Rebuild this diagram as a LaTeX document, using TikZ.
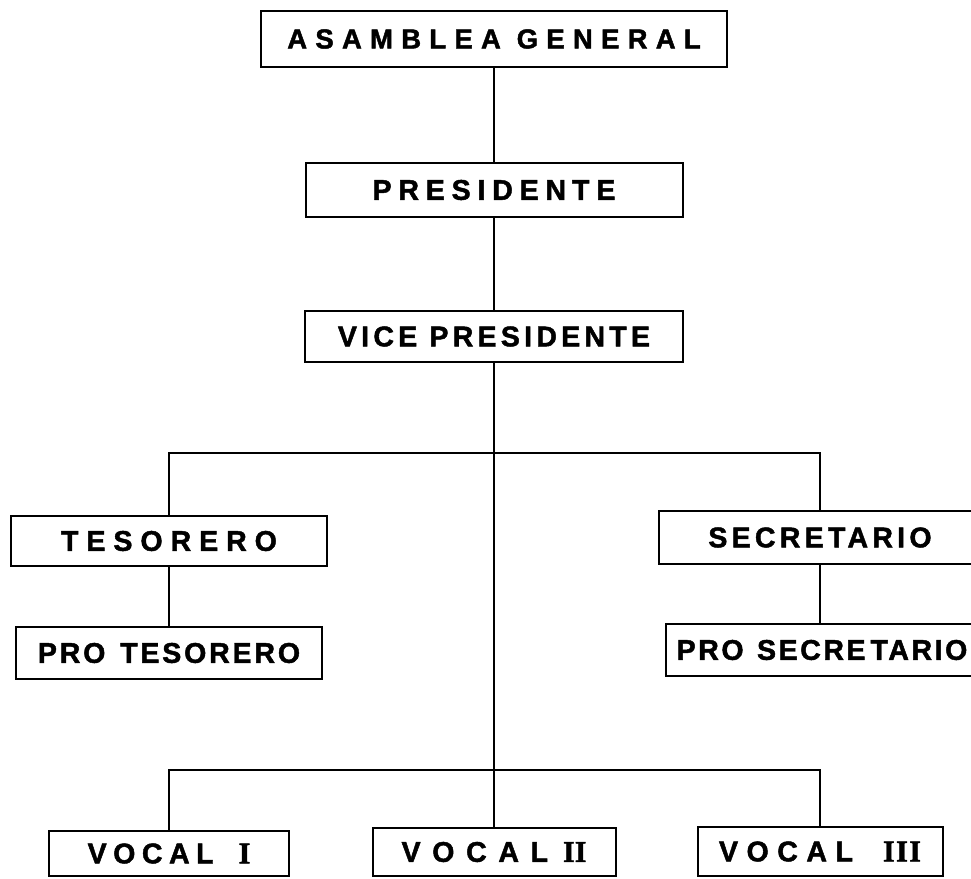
\documentclass[tikz,border=0pt]{standalone}
\usepackage{fontspec}
\usetikzlibrary{positioning}
\newfontfamily\orgfont{Liberation Sans}[UprightFont={* Bold},FakeBold=1.6]
\newfontfamily\numfont{Liberation Serif}[UprightFont={* Bold},FakeBold=1.4]
\newcommand\spaced[2]{{\addfontfeature{LetterSpace=#1}#2}}
\newcommand\numeral[1]{{\numfont\fontsize{30}{32}\selectfont #1}}

\begin{document}
\begin{tikzpicture}[
                x=1pt,y=-1pt,
                orgbox/.style={draw,line width=2pt,inner sep=0pt,
                    font=\orgfont\fontsize{28.5}{30}\selectfont},
                enlace/.style={line width=1.6pt}
            ]
                \fill[white] (0,0) rectangle (971,878);
                \useasboundingbox (0,0) rectangle (971,878);
                \clip (0,0) rectangle (971,878);
                \node (asamblea) [orgbox,minimum width=466pt,minimum height=56pt,
                    font=\orgfont\fontsize{27.5}{29}\selectfont] at (494,39)
                    {\spaced{30}{ASAMBLEA GENERAL}};
                \node (presidente) [orgbox,minimum width=377pt,minimum height=54pt,
                    below=94pt of asamblea] {\spaced{24}{PRESIDEN\kern6pt TE}};
                \node (vice) [orgbox,minimum width=378pt,minimum height=51pt,
                    below=92pt of presidente] {\spaced{15}{VICE PRESIDENTE}};
                \node (tesorero) [orgbox,minimum width=316pt,minimum height=50pt]
                    at (169,541) {\spaced{28}{TESORERO}};
                \node (protesorero) [orgbox,minimum width=306pt,minimum height=52pt,
                    below=59pt of tesorero] {\spaced{10}{PRO\kern4pt\ TESORERO}};
                \node (secretario) [orgbox,minimum width=322pt,minimum height=53pt]
                    at (820,537.5) {\spaced{15}{SECRETARIO}};
                \node (prosecretario) [orgbox,minimum width=308pt,minimum height=52pt,
                    below=58pt of secretario] {\hspace{4pt}\spaced{9}{PRO\kern3pt\ SECRE\kern5pt TARIO}};
                \node (vocal1) [orgbox,minimum width=240pt,minimum height=45pt]
                    at (169,853.5) {\spaced{23}{VOCAL}\hspace{25pt}\numeral{I}};
                \node (vocal2) [orgbox,minimum width=243pt,minimum height=48pt]
                    at (494,852) {\spaced{41}{VOCAL}\hspace{15pt}\numeral{II}};
                \node (vocal3) [orgbox,minimum width=245pt,minimum height=49pt]
                    at (820,851.5) {\spaced{30}{VOCAL}\hspace{30pt}\numeral{\spaced{5}{III}}};
                \coordinate (ramaA) at (494,453);
                \coordinate (ramaB) at (494,770);
                \draw[enlace] (asamblea.south) -- (presidente.north);
                \draw[enlace] (presidente.south) -- (vice.north);
                \draw[enlace] (vice.south) -- (vocal2.north);
                \draw[enlace] (tesorero.north) |- (ramaA) -| (secretario.north);
                \draw[enlace] (tesorero.south) -- (protesorero.north);
                \draw[enlace] (secretario.south) -- (prosecretario.north);
                \draw[enlace] (vocal1.north) |- (ramaB) -| (vocal3.north);
            \end{tikzpicture}
\end{document}
